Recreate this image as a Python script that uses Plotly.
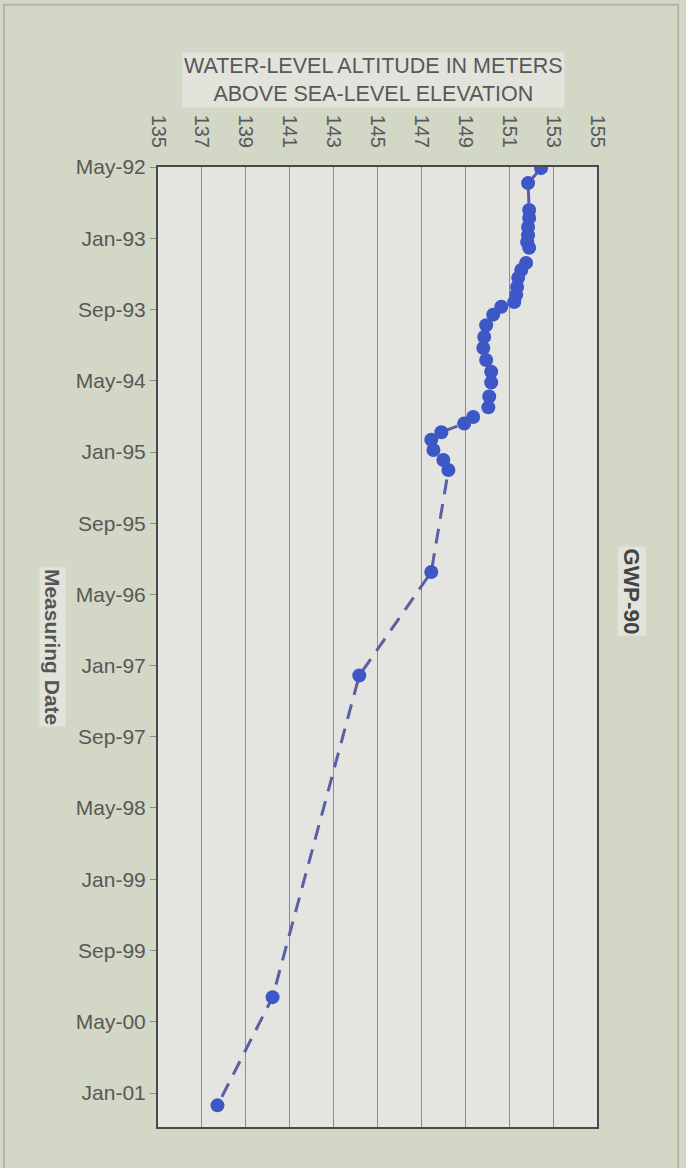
import plotly.graph_objects as go

# Measured water levels (m above sea level) for well GWP-90
dates = [
    "1992-05-05", "1992-06-25", "1992-09-25", "1992-10-22", "1992-11-22",
    "1992-12-20", "1993-01-13", "1993-02-01", "1993-03-25", "1993-04-18",
    "1993-05-15", "1993-06-15", "1993-07-12", "1993-08-06", "1993-08-22",
    "1993-09-18", "1993-10-24", "1993-12-03", "1994-01-10", "1994-02-20",
    "1994-04-01", "1994-05-08", "1994-06-25", "1994-08-01", "1994-09-03",
    "1994-09-25", "1994-10-25", "1994-11-20", "1994-12-25", "1995-01-28",
    "1995-03-03", "1996-02-15", "1997-02-03", "2000-02-08", "2001-02-12",
]
levels = [
    152.45, 151.86, 151.91, 151.91, 151.86,
    151.86, 151.82, 151.91, 151.77, 151.55,
    151.41, 151.36, 151.32, 151.23, 150.64,
    150.27, 149.95, 149.86, 149.82, 149.95,
    150.18, 150.18, 150.09, 150.05, 149.36,
    148.95, 147.91, 147.45, 147.55, 148.00,
    148.23, 147.45, 144.17, 140.22, 137.71,
]

date_tick_vals = [
    "1992-05-01", "1993-01-01", "1993-09-01", "1994-05-01", "1995-01-01",
    "1995-09-01", "1996-05-01", "1997-01-01", "1997-09-01", "1998-05-01",
    "1999-01-01", "1999-09-01", "2000-05-01", "2001-01-01",
]
date_tick_text = [
    "May-92", "Jan-93", "Sep-93", "May-94", "Jan-95",
    "Sep-95", "May-96", "Jan-97", "Sep-97", "May-98",
    "Jan-99", "Sep-99", "May-00", "Jan-01",
]
level_ticks = [135, 137, 139, 141, 143, 145, 147, 149, 151, 153, 155]
date_range = ["2001-04-27", "1992-05-01"]
level_range = [135, 155]

fig = go.Figure()
fig.add_trace(go.Scatter(
    x=levels, y=dates, mode="lines+markers",
    line=dict(color="#5a5fa6", width=3, dash="15px,10px"),
    marker=dict(color="#3d57c6", size=14),
    showlegend=False,
))

font_family = "Liberation Sans, Arial, sans-serif"
txt = "#585858"

fig.update_layout(
    width=686, height=1168, autosize=False,
    margin=dict(l=158, r=89, t=167, b=41),
    paper_bgcolor="#d3d7c6",
    plot_bgcolor="#e4e5e0",
    font=dict(family=font_family, color=txt, size=20),
    xaxis=dict(
        range=level_range, side="top", tickvals=level_ticks,
        tickangle=90, showgrid=True, gridcolor="#8c8c8c", gridwidth=1,
        showline=True, linecolor="#4a4a4a", linewidth=2, mirror=True,
        ticks="", ticklabelstandoff=10, zeroline=False,
        tickfont=dict(size=20, color=txt),
    ),
    yaxis=dict(
        type="date", range=date_range, tickvals=date_tick_vals,
        ticktext=date_tick_text, showgrid=False,
        showline=True, linecolor="#4a4a4a", linewidth=2, mirror=True,
        ticks="outside", ticklen=6, tickcolor="#8a8a8a",
        tickfont=dict(size=21, color=txt),
    ),
    annotations=[
        dict(text="WATER-LEVEL ALTITUDE IN METERS<br>ABOVE SEA-LEVEL ELEVATION",
             xref="paper", yref="paper", x=0.492, y=1.0906,
             xanchor="center", yanchor="middle", showarrow=False,
             font=dict(size=21.5, color=txt, family=font_family),
             bgcolor="#e2e4dc"),
        dict(text="<b>Measuring Date</b>", textangle=90,
             xref="paper", yref="paper", x=-0.239, y=0.5,
             xanchor="center", yanchor="middle", showarrow=False,
             font=dict(size=21, color="#555555", family=font_family),
             bgcolor="#e2e4dc"),
        dict(text="<b>GWP-90</b>", textangle=90,
             xref="paper", yref="paper", x=1.08, y=0.558,
             xanchor="center", yanchor="middle", showarrow=False,
             font=dict(size=22.5, color="#444444", family=font_family),
             bgcolor="#e2e4dc"),
    ],
    shapes=[
        dict(type="rect", xref="paper", yref="paper",
             x0=-0.351, x1=1.185, y0=-0.06, y1=1.169,
             line=dict(color="#b3b6a8", width=2), layer="below"),
    ],
)

fig.write_html("out.html")
